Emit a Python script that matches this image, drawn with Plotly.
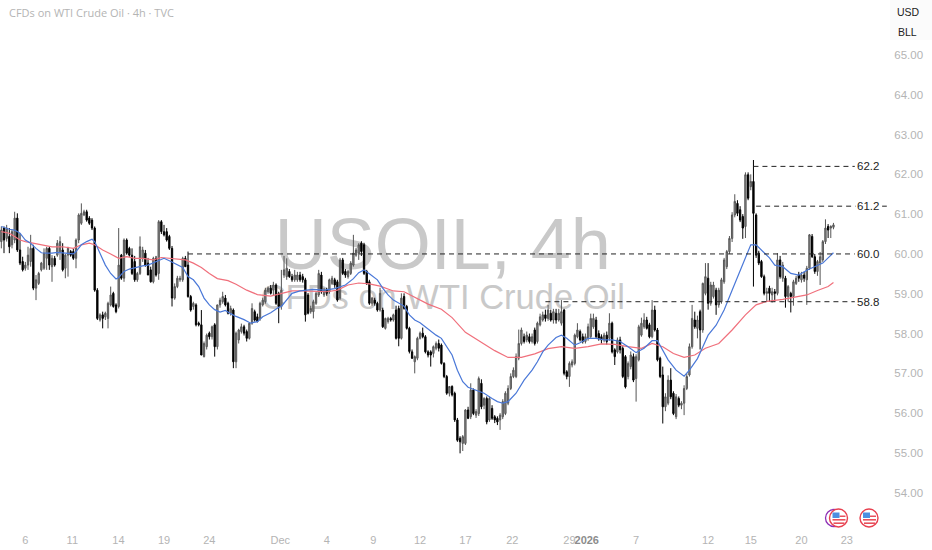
import plotly.graph_objects as go

opens = [60.31,60.65,60.39,60.44,60.23,60.35,60.90,60.10,59.81,59.64,
59.72,59.81,60.14,59.14,59.26,59.60,59.64,59.89,60.14,59.68,
59.89,59.97,60.06,60.10,59.64,59.97,60.06,60.06,59.89,60.35,
60.77,60.98,61.06,60.90,60.85,60.65,59.09,58.34,58.47,58.42,
58.38,58.72,59.01,58.72,58.68,59.97,59.39,60.35,60.14,59.97,
59.81,59.35,59.51,59.89,60.02,59.77,59.60,59.30,59.89,59.51,
60.81,60.56,60.56,60.44,60.14,58.89,59.18,59.35,59.35,59.89,
59.72,58.93,58.68,58.72,58.26,58.22,57.42,57.67,58.01,57.92,
58.22,57.67,58.72,58.80,58.89,58.76,58.51,58.59,57.29,57.84,
58.05,58.17,58.05,57.88,58.26,58.55,58.42,58.38,58.72,58.80,
59.05,59.14,59.09,59.22,59.01,58.68,59.47,59.43,59.56,59.43,
59.35,59.35,59.47,59.43,59.35,58.97,58.55,58.55,58.76,58.97,
59.47,58.97,59.09,59.05,59.26,59.35,59.30,58.89,59.85,59.56,
59.43,59.51,59.72,59.97,60.02,60.27,60.23,59.56,59.30,58.76,
58.84,58.76,58.59,58.59,58.13,58.30,58.38,58.34,58.59,58.63,
57.88,58.93,58.68,58.13,57.54,57.29,57.38,57.88,58.01,57.92,
57.54,57.54,57.50,57.63,57.75,57.71,57.25,56.92,56.50,56.67,
56.50,55.83,55.37,55.24,55.24,56.08,55.91,56.58,55.95,55.99,
56.75,56.20,56.37,55.83,56.12,55.91,55.87,55.83,55.91,55.99,
56.25,56.62,56.92,56.92,57.38,57.75,57.92,57.84,57.92,57.80,
58.09,57.80,58.22,58.34,58.47,58.38,58.51,58.34,58.51,58.34,
58.26,58.59,57.04,56.92,57.21,57.25,57.92,58.05,57.92,57.80,
57.88,57.92,58.17,58.34,58.00,57.92,57.84,57.96,57.88,58.26,
57.59,57.54,57.84,57.63,57.42,56.92,57.17,57.42,56.87,57.34,
57.96,58.17,58.34,58.22,57.92,58.59,58.09,57.38,56.96,56.16,
56.25,56.83,56.50,55.91,56.37,56.20,56.25,56.62,56.96,57.67,
58.34,58.13,58.55,58.09,59.01,59.39,58.76,58.93,59.09,58.72,
58.80,59.30,59.68,60.06,60.39,60.98,61.27,61.11,60.94,60.69,
61.99,61.69,61.82,60.98,60.02,59.81,59.43,59.01,59.14,58.97,
59.05,59.01,59.85,59.39,59.39,58.93,59.01,58.93,59.26,59.47,
59.35,59.47,59.35,59.64,60.44,59.93,59.56,59.77,59.85,60.31,
60.69,60.65,60.67]

highs = [60.69,60.69,60.73,60.65,60.60,61.06,61.02,60.52,59.93,59.80,
60.18,60.48,60.23,59.47,59.55,59.80,60.14,60.18,60.18,59.97,
59.95,60.35,60.44,60.27,60.00,60.18,60.10,60.14,60.39,61.02,
61.27,61.11,61.11,60.95,60.90,60.69,59.14,58.51,58.55,58.55,
58.80,59.18,59.05,58.76,60.65,60.00,60.39,60.39,60.18,60.14,
59.95,59.55,60.44,60.18,60.10,59.90,59.68,59.93,59.95,60.85,
60.85,60.73,60.65,60.48,60.20,59.26,59.45,59.45,59.93,59.95,
60.06,58.97,58.80,58.76,58.30,58.59,57.80,58.00,58.05,58.20,
58.26,58.72,58.90,59.05,58.97,58.80,58.70,58.63,58.05,58.12,
58.25,58.22,58.10,58.26,58.76,58.60,58.50,58.80,58.90,59.15,
59.18,59.22,59.30,59.26,59.05,59.60,59.95,59.89,59.62,59.50,
59.60,59.55,59.55,59.50,59.40,59.02,58.70,58.85,59.05,59.60,
59.55,59.15,59.15,59.38,59.45,59.40,59.35,59.90,59.90,59.62,
59.60,59.82,60.48,60.15,60.27,60.32,60.28,59.60,59.35,58.92,
58.90,58.80,59.15,58.65,58.40,58.42,58.42,58.50,58.70,58.70,
59.01,59.01,58.72,58.17,57.60,57.45,57.92,58.05,58.15,57.96,
57.58,57.58,57.70,57.80,57.85,57.75,57.28,56.96,56.68,56.70,
56.54,55.88,55.42,55.45,56.10,56.16,56.75,56.62,56.10,56.92,
56.85,56.40,56.42,56.42,56.20,55.95,55.92,56.00,56.35,56.55,
56.70,57.00,57.15,57.50,58.10,58.15,58.00,58.05,58.00,58.00,
58.15,58.30,58.50,58.55,58.60,58.72,58.60,58.62,58.62,58.62,
58.84,58.62,57.08,57.30,57.35,58.00,58.26,58.10,58.00,58.00,
58.25,58.50,58.50,58.42,58.08,57.98,58.02,58.05,58.51,58.30,
57.63,57.90,57.92,57.68,57.46,57.30,57.55,57.50,57.48,58.22,
58.40,58.51,58.42,58.27,58.84,58.70,58.14,57.42,57.17,56.50,
56.95,57.13,56.55,56.48,56.42,56.30,56.70,57.00,57.75,58.72,
58.55,58.45,58.60,59.28,59.77,59.77,59.30,59.30,59.15,59.15,
59.40,59.90,60.10,60.45,61.05,61.50,61.35,61.20,61.00,62.05,
62.05,62.00,62.36,61.02,60.08,59.85,59.48,59.15,59.20,59.15,
59.12,60.02,59.95,59.80,59.45,59.22,59.05,59.35,59.45,59.55,
59.55,59.55,59.70,60.50,60.50,60.00,59.85,60.05,60.35,60.87,
60.75,60.72,60.78]

lows = [60.14,60.02,60.31,60.02,60.14,60.27,60.05,59.72,59.56,59.58,
59.60,59.68,59.09,58.84,59.22,59.56,59.60,59.60,59.60,59.30,
59.68,59.93,59.85,59.56,59.39,59.43,59.93,59.85,59.64,60.27,
60.73,60.95,60.81,60.73,60.60,59.05,58.34,58.30,58.13,58.34,
58.13,58.68,58.65,58.51,58.63,59.35,59.30,59.98,59.93,59.47,
59.30,59.30,59.47,59.80,59.68,59.47,59.28,59.26,59.43,59.35,
60.50,60.44,60.31,60.10,58.68,58.85,59.14,59.30,59.30,59.68,
58.90,58.55,58.60,58.18,58.18,57.46,57.40,57.60,57.85,57.85,
57.42,57.60,58.65,58.75,58.68,58.48,58.45,57.13,57.13,57.75,
58.00,57.95,57.80,57.85,58.22,58.30,58.28,58.32,58.68,58.75,
59.00,58.98,58.95,58.72,58.26,58.60,59.40,59.35,59.40,59.30,
59.30,59.30,59.30,59.28,58.30,58.48,58.50,58.38,58.72,58.92,
59.00,58.92,58.95,59.00,59.22,59.15,58.80,58.85,59.47,59.40,
59.38,59.47,59.68,59.93,59.85,59.95,59.47,59.22,58.72,58.70,
58.70,58.55,58.55,58.14,58.10,58.25,58.30,58.30,57.85,57.68,
57.85,58.60,58.10,57.50,57.36,57.00,57.33,57.85,57.88,57.50,
57.40,57.17,57.40,57.58,57.55,57.22,56.88,56.46,56.42,56.42,
55.78,55.28,54.99,55.05,55.20,55.85,55.85,55.95,55.88,55.93,
56.10,56.10,55.72,55.78,55.83,55.75,55.70,55.58,55.85,55.95,
56.20,56.58,56.88,56.88,57.33,57.70,57.75,57.78,57.75,57.75,
57.70,57.75,58.18,58.30,58.30,58.32,58.30,58.25,58.25,58.30,
58.20,56.95,56.85,56.66,57.15,57.20,57.88,57.80,57.75,57.75,
57.82,57.88,58.12,57.88,57.82,57.75,57.78,57.72,57.82,57.50,
57.21,57.50,57.50,56.88,56.62,56.85,57.10,56.78,56.29,57.30,
57.92,58.12,58.10,57.88,57.88,58.05,57.30,56.88,55.74,56.05,
56.20,56.35,55.95,55.85,56.15,56.10,55.95,56.58,56.92,57.62,
58.12,57.88,57.60,58.02,58.96,58.60,58.70,58.88,58.47,58.65,
58.75,59.25,59.62,60.00,60.30,60.92,60.95,60.80,60.38,60.40,
61.35,61.60,59.18,59.90,59.72,59.40,58.96,58.80,58.80,58.78,
58.80,58.96,59.38,59.30,58.65,58.80,58.53,58.70,59.22,59.30,
59.28,59.30,58.72,59.60,59.90,59.50,59.45,59.22,59.80,60.25,
60.40,60.40,60.62]

closes = [60.60,60.35,60.65,60.18,60.56,60.90,60.10,59.77,59.60,59.72,
59.97,60.14,59.14,59.35,59.51,59.77,60.02,60.14,59.72,59.89,
59.72,60.27,60.31,59.60,59.97,60.14,59.97,59.89,60.35,60.98,
61.02,61.06,60.85,60.77,60.65,59.09,58.38,58.47,58.38,58.51,
58.76,58.97,58.68,58.55,59.72,59.39,60.35,60.02,59.97,59.51,
59.35,59.51,60.18,60.10,59.72,59.47,59.30,59.89,59.47,60.81,
60.56,60.48,60.35,60.14,58.89,59.18,59.39,59.39,59.89,59.68,
58.93,58.59,58.76,58.22,58.22,57.46,57.75,57.96,57.92,58.17,
57.67,58.72,58.84,58.93,58.72,58.51,58.63,57.29,58.01,58.09,
58.17,58.01,57.88,58.26,58.63,58.34,58.30,58.76,58.84,59.09,
59.14,59.01,59.22,58.76,58.68,59.09,59.60,59.64,59.43,59.35,
59.47,59.47,59.35,59.35,58.47,58.51,58.63,58.80,59.01,59.51,
59.05,59.09,59.01,59.35,59.39,59.22,58.84,59.85,59.51,59.47,
59.56,59.77,60.02,60.10,60.23,60.06,59.51,59.26,58.76,58.89,
58.76,58.59,59.01,58.17,58.38,58.38,58.34,58.47,57.88,57.88,
58.89,58.63,58.13,57.55,57.38,57.42,57.88,58.01,57.92,57.54,
57.46,57.46,57.67,57.75,57.63,57.25,56.92,56.50,56.67,56.46,
55.83,55.32,55.28,55.41,56.08,55.87,56.58,55.99,56.04,56.87,
56.16,56.37,55.78,56.37,55.87,55.83,55.78,55.95,56.29,56.50,
56.62,56.92,57.08,57.42,57.75,58.09,57.80,57.96,57.80,57.92,
57.75,58.26,58.42,58.47,58.38,58.59,58.34,58.55,58.34,58.51,
58.55,57.00,56.92,57.25,57.29,57.96,58.09,57.84,57.80,57.92,
58.17,58.38,58.38,57.92,57.88,57.84,57.96,57.80,58.26,57.54,
57.42,57.84,57.59,56.92,56.66,57.25,57.46,56.83,57.42,58.17,
58.26,58.34,58.13,57.92,58.59,58.09,57.34,56.92,56.16,56.41,
56.83,56.41,55.99,56.41,56.20,56.25,56.62,56.92,57.67,58.38,
58.17,58.34,58.09,59.26,59.43,58.76,59.22,59.22,58.72,59.09,
59.35,59.85,60.06,60.39,60.98,61.32,61.02,60.85,60.65,61.99,
61.40,61.82,61.02,59.97,59.77,59.43,59.01,59.05,59.01,59.05,
59.01,59.85,59.43,59.72,58.93,59.18,58.93,59.30,59.39,59.39,
59.47,59.39,59.64,60.48,59.93,59.56,59.81,59.93,60.31,60.65,
60.60,60.69,60.73]

bars = list(range(len(closes)))

blue_bars = [0,3,5,7,9,11,13,15,17,19,21,23,25,27,28,30,32,34,35,37,39,41,43,44,46,48,50,53,55,57,59,61,63,65,68,70,72,74,76,78,80,82,84,86,88,91,93.5,96,98,101,104,105,107,109,112,114,117,121,125,129,132,134,136,138,141,143,145,147,149,151,153,155,157,159,161,163,165,167,169,171,173,175,178,181,184,186,188,190,193,196,199,201,203,205,208,210,212,215,217,220,223,226,229,232,235,238,241,244,246,248,250,253,256,258,261,263,265,268,271,274,277,279,281,283,285,288,290,293,296,299,302,305,308,310,312]
blue_vals = [60.69,60.62,60.60,60.52,60.35,60.27,60.14,60.03,60.02,60.02,60.04,60.03,60.02,60.00,60.06,60.23,60.31,60.37,60.31,60.02,59.72,59.51,59.37,59.41,59.56,59.62,59.66,59.70,59.72,59.78,59.85,59.89,59.83,59.77,59.66,59.43,59.35,59.18,58.89,58.72,58.60,58.54,58.58,58.50,58.43,58.35,58.26,58.30,58.42,58.52,58.66,58.68,58.84,59.01,59.07,59.09,59.11,59.09,59.13,59.22,59.38,59.53,59.60,59.50,59.35,59.14,58.97,58.84,58.76,58.69,58.47,58.34,58.27,58.17,58.05,57.96,57.88,57.67,57.46,57.08,56.79,56.65,56.58,56.50,56.37,56.29,56.25,56.29,56.50,56.83,57.08,57.29,57.54,57.71,57.90,57.96,57.88,57.71,57.77,57.88,57.88,57.84,57.84,57.80,57.67,57.52,57.63,57.82,57.82,57.59,57.34,57.08,56.93,57.08,57.37,57.66,57.96,58.21,58.59,59.09,59.59,59.93,60.23,60.23,60.10,59.90,59.72,59.68,59.51,59.47,59.59,59.68,59.77,59.90,60.03]

red_bars = [0,3,5,7,9,12,15,19,23,27,30,33,35,38,41,44,47,50,53,57,60,63,67,69,72,75,78,81,85,88,92,96,101,106,109,113,118,122,126,130,134,138,142,147,151,155,160,165,169,174,180,185,190,195,200,205,210,215,220,225,230,235,240,244,248,252,256,260,264,269,274,279,283,287,293,298,302,306,310,312]
red_vals = [60.56,60.52,60.44,60.35,60.31,60.27,60.23,60.18,60.18,60.14,60.23,60.27,60.23,60.10,60.00,59.89,59.93,59.89,59.89,59.85,59.91,59.89,59.87,59.85,59.77,59.66,59.51,59.38,59.33,59.24,59.09,58.98,58.94,59.01,59.07,59.07,59.05,59.05,59.09,59.22,59.27,59.25,59.19,59.07,59.05,58.91,58.74,58.61,58.40,58.03,57.78,57.57,57.40,57.40,57.49,57.62,57.67,57.63,57.67,57.74,57.73,57.67,57.63,57.75,57.67,57.50,57.40,57.46,57.63,57.75,58.09,58.47,58.72,58.81,58.86,58.93,58.97,59.08,59.18,59.28]

level_vals = [62.2, 61.2, 60.0, 58.8]
level_labels = ["62.2", "61.2", "60.0", "58.8"]
level_start_bars = [282, 283, 70, 204]
level_end_bars = [320, 332, 320, 320]

tick_bars = [9, 26.6, 43.9, 61, 78, 104.6, 122, 139.5, 157, 174, 191.6, 213, 219.5, 238, 265, 281, 300, 317]
tick_labels = ["6", "11", "14", "19", "24", "Dec", "4", "9", "12", "17", "22", "29",
               "<b><span style='color:#8c8c8c'>2026</span></b>", "7", "12", "15", "20", "23"]
price_ticks = [54, 55, 56, 57, 58, 59, 60, 61, 62, 63, 64, 65]

W, H = 932, 550
L_END = 890
B_TOP = 525
X_RANGE = [-0.5, 333.2]
Y_RANGE = [53.19, 66.38]
LBL = "Liberation Sans"

fig = go.Figure()

# Watermark lives on the base subplot so that it stays behind the candles
fig.add_trace(go.Scatter(x=[0.4975], y=[0.521], mode="text", text=["USOIL, 4h"],
                         textfont=dict(family=LBL, size=72, color="#c9c9c9"),
                         xaxis="x", yaxis="y", hoverinfo="skip", showlegend=False))
fig.add_trace(go.Scatter(x=[0.4975], y=[0.428], mode="text", text=["CFDs on WTI Crude Oil"],
                         textfont=dict(family=LBL, size=34.5, color="#c9c9c9"),
                         xaxis="x", yaxis="y", hoverinfo="skip", showlegend=False))

fig.add_trace(go.Candlestick(x=bars, open=opens, high=highs, low=lows, close=closes,
                             xaxis="x2", yaxis="y2", whiskerwidth=0,
                             increasing=dict(line=dict(color="#555555", width=1), fillcolor="#8f8f8f"),
                             decreasing=dict(line=dict(color="#000000", width=1), fillcolor="#000000"),
                             showlegend=False))
fig.add_trace(go.Scatter(x=red_bars, y=red_vals, mode="lines", line=dict(color="#f0707c", width=1.2),
                         xaxis="x2", yaxis="y2", showlegend=False))
fig.add_trace(go.Scatter(x=blue_bars, y=blue_vals, mode="lines", line=dict(color="#4a78d8", width=1.2),
                         xaxis="x2", yaxis="y2", showlegend=False))

shapes = []
annotations = []
for v, lab, s, e in zip(level_vals, level_labels, level_start_bars, level_end_bars):
    shapes.append(dict(type="line", xref="x2", yref="y2", x0=s, x1=e, y0=v, y1=v,
                       line=dict(color="#222222", width=1, dash="5px,4px")))
    annotations.append(dict(xref="x2", yref="y2", x=324.8, y=v, text=lab, showarrow=False,
                            font=dict(family=LBL, size=11.5, color="#222222"), bgcolor="#ffffff",
                            borderpad=1))

shapes.append(dict(type="rect", xref="paper", yref="paper", x0=1, x1=W / L_END,
                   y0=1 - 40 / B_TOP, y1=1, fillcolor="#fbfbfb", line=dict(width=0), layer="below"))

annotations += [
    dict(xref="paper", yref="paper", x=7 / L_END, y=1 - 12 / B_TOP, xanchor="left", yanchor="middle",
         text="CFDs on WTI Crude Oil · 4h · TVC", showarrow=False,
         font=dict(family="Open Sans", size=11, color="#b4b4b4")),
    dict(xref="paper", yref="paper", x=908 / L_END, y=1 - 12 / B_TOP, xanchor="center", yanchor="middle",
         text="USD", showarrow=False, font=dict(family=LBL, size=10.5, color="#222222")),
    dict(xref="paper", yref="paper", x=907 / L_END, y=1 - 32 / B_TOP, xanchor="center", yanchor="middle",
         text="BLL", showarrow=False, font=dict(family=LBL, size=10.5, color="#222222")),
]


# Flag badges on the time axis
def circle(cx, cy, r, **kw):
    return dict(type="circle", xref="paper", yref="paper",
                x0=(cx - r) / L_END, x1=(cx + r) / L_END,
                y0=1 - (cy + r) / B_TOP, y1=1 - (cy - r) / B_TOP, **kw)


def rect(x0, x1, y0, y1, color):
    return dict(type="rect", xref="paper", yref="paper", x0=x0 / L_END, x1=x1 / L_END,
                y0=1 - y1 / B_TOP, y1=1 - y0 / B_TOP, fillcolor=color, line=dict(width=0))


shapes.append(circle(834, 518, 8.5, fillcolor="#ffffff", line=dict(color="#8e2fb5", width=1.3)))
for cx in (838.5, 869):
    shapes.append(circle(cx, 518, 9, fillcolor="#ffffff", line=dict(color="#e8404f", width=1.4)))
    shapes.append(rect(cx - 6, cx + 7, 519, 520.6, "#e8505c"))
    shapes.append(rect(cx - 5, cx + 6, 522.4, 524, "#e8505c"))
    shapes.append(rect(cx + 1, cx + 7, 515.5, 517, "#e8505c"))
    shapes.append(rect(cx - 6, cx + 1, 512.5, 518, "#4c8fe0"))

fig.update_layout(
    width=W, height=H, autosize=False,
    margin=dict(l=0, r=W - L_END, t=0, b=H - B_TOP),
    paper_bgcolor="#ffffff", plot_bgcolor="#ffffff",
    showlegend=False, hovermode=False,
    xaxis=dict(range=[0, 1], visible=False, fixedrange=True, rangeslider=dict(visible=False)),
    yaxis=dict(range=[0, 1], visible=False, fixedrange=True),
    xaxis2=dict(overlaying="x", anchor="y2", range=X_RANGE, tickmode="array", tickvals=tick_bars,
                ticktext=tick_labels, tickangle=0, showgrid=False, zeroline=False, showline=False,
                ticks="outside", ticklen=5, tickcolor="rgba(0,0,0,0)",
                tickfont=dict(family=LBL, size=11, color="#b4b4b4"),
                rangeslider=dict(visible=False)),
    yaxis2=dict(overlaying="y", anchor="x2", side="right", range=Y_RANGE, tickmode="array",
                tickvals=price_ticks, ticktext=[f"{t:.2f}" for t in price_ticks],
                showgrid=False, zeroline=False, showline=False, ticks="outside", ticklen=1,
                tickcolor="rgba(0,0,0,0)",
                tickfont=dict(family=LBL, size=11.5, color="#b4b4b4")),
    shapes=shapes, annotations=annotations,
)

fig.write_html("out.html", config={"displayModeBar": False},
               post_script="document.body.style.margin='0';document.body.style.overflow='hidden';")
